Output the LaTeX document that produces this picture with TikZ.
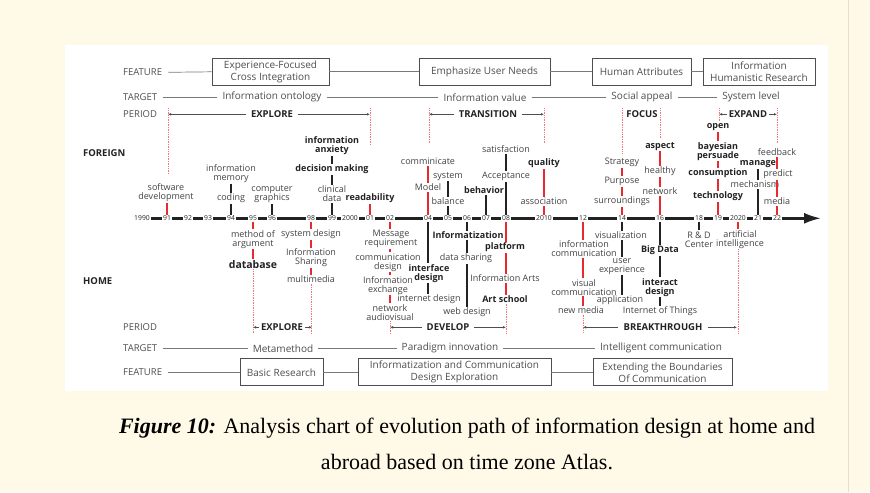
\documentclass[tikz,border=0pt]{standalone}
\usepackage{fontspec}
\setmainfont{Open Sans}
\newfontfamily\capfont{Liberation Serif}
\usetikzlibrary{arrows.meta}
\definecolor{cream}{RGB}{255,249,231}
\definecolor{myred}{RGB}{232,42,48}
\definecolor{dotred}{RGB}{240,120,120}
\definecolor{ink}{RGB}{34,34,34}
\definecolor{gline}{RGB}{120,120,120}
\definecolor{edge}{RGB}{230,222,200}
\begin{document}
\begin{tikzpicture}[x=1pt,y=-1pt,
 lab/.style={font=\fontsize{9}{9}\selectfont, align=center, inner xsep=1pt, inner ysep=0.8pt, text=ink!85},
 blab/.style={lab, font=\fontsize{9}{9}\selectfont\bfseries, text=ink},
 yr/.style={font=\fontsize{6.8}{7}\selectfont, fill=white, inner xsep=1.2pt, inner ysep=1pt, text=ink},
 rstem/.style={draw=myred, line width=2.3pt},
 kstem/.style={draw=ink, line width=2.3pt},
 rdot/.style={draw=dotred, densely dotted, line width=0.7pt},
 hdr/.style={font=\fontsize{10}{10}\selectfont, text=ink!80, inner xsep=5pt},
 rowlab/.style={font=\fontsize{9.5}{9.5}\selectfont, text=ink!80, anchor=west, inner xsep=0pt},
 side/.style={font=\fontsize{9.5}{9.5}\selectfont\bfseries, text=ink, anchor=west, inner xsep=0pt},
 fbox/.style={draw=ink!80, line width=0.8pt, align=center, minimum height=27pt, inner sep=0pt, font=\fontsize{10}{12}\selectfont, text=ink!80},
 rline/.style={draw=gline, line width=0.7pt},
 per/.style={font=\fontsize{9.5}{9.5}\selectfont\bfseries, text=ink, inner xsep=5pt},
 parr/.style={draw=ink!80, line width=0.7pt, arrows={-Latex[length=3pt,width=2.6pt]}},
]
% background
\fill[cream] (0,0) rectangle (870,492);
\fill[white] (65,45) rectangle (828,391);
\coordinate (e1) at (848,0); \coordinate (e2) at (848,492);
\draw[edge, line width=0.6pt] (e1) -- (e2);

% ---------- top rows ----------
\node[rowlab] (fL) at (123,72) {FEATURE};
\node[rowlab] (tL) at (123,97) {TARGET};
\node[rowlab] (pL) at (123,114) {PERIOD};

\node[fbox, minimum width=117pt] (bE) at (270.5,71.5) {Experience-Focused\\Cross Integration};
\node[fbox, minimum width=131pt] (bU) at (484.5,71.5) {Emphasize User Needs};
\node[fbox, minimum width=99pt] (bH) at (641.5,71.5) {Human Attributes};
\node[fbox, minimum width=112pt] (bI) at (759,71.5) {Information\\Humanistic Research};
\draw[rline] ([xshift=6pt]fL.east) -- (bE.west);
\draw[rline] (bE.east) -- (bU.west);
\draw[rline] (bU.east) -- (bH.west);
\draw[rline] (bH.east) -- (bI.west);

\node[hdr] (tA) at (272,97) {Information ontology};
\node[hdr] (tB) at (485,97) {Information value};
\node[hdr] (tC) at (642,97) {Social appeal};
\node[hdr] (tD) at (751,97) {System level};
\draw[rline] ([xshift=6pt]tL.east) -- (tA.west);
\draw[rline] (tA.east) -- (tB.west);
\draw[rline] (tB.east) -- (tC.west);
\draw[rline] (tC.east) -- (tD.west);

% period (top)
\node[per] (pEX) at (272,114) {EXPLORE};
\coordinate (pEXl) at (168,114); \coordinate (pEXr) at (370,114);
\draw[parr] (pEX.west) -- (pEXl); \draw[parr] (pEX.east) -- (pEXr);
\node[per] (pTR) at (488,114) {TRANSITION};
\coordinate (pTRl) at (429,114); \coordinate (pTRr) at (544,114);
\draw[parr] (pTR.west) -- (pTRl); \draw[parr] (pTR.east) -- (pTRr);
\node[per] (pFO) at (642,114) {FOCUS};
\node[per, inner xsep=2pt] (pEP) at (748,114) {EXPAND};
\coordinate (pEPl) at (719,114); \coordinate (pEPr) at (777,114);
\draw[parr] (pEP.west) -- (pEPl); \draw[parr] (pEP.east) -- (pEPr);

% dotted guides (top)
\foreach \n/\x/\ye in {a/168/173, b/370/145, c/429/143, d/544/143, e/622/153, f/660/138, g/719/120, h/777/143}{
  \coordinate (du\n1) at (\x,108); \coordinate (du\n2) at (\x,\ye);
  \draw[rdot] (du\n1) -- (du\n2);
}

\node[side] (FOR) at (83,153) {FOREIGN};
\node[side] (HOM) at (83,281) {HOME};

% ---------- timeline ----------
\coordinate (t0) at (149,218); \coordinate (tend) at (821,218);
\draw[ink, line width=2.4pt, -{Latex[length=17pt,width=11pt]}] (t0) -- (tend);
\foreach \n/\x/\t in {1990/142/1990, 91/167/91, 92/188/92, 93/208/93, 94/231/94, 95/253/95, 96/272/96, 98/311/98, 99/332/99, 2000/350/2000, 01/370/01, 02/390/02, 04/428/04, 05/448/05, 06/467/06, 07/486/07, 08/506/08, 2010/544/2010, 12/583/12, 14/622/14, 16/660/16, 18/699/18, 19/718/19, 2020/738/2020, 21/758/21, 22/777/22}{
  \node[yr] (y\n) at (\x,218) {\t};
}

% ---------- foreign ----------
\node[lab] (f91) at (166,192.5) {software\\development};
\draw[rstem] (y91.north) -- (y91 |- f91.south);

\node[lab] (f94a) at (231,198) {coding};
\node[lab] (f94b) at (231,173.5) {information\\memory};
\draw[kstem] (y94.north) -- (y94 |- f94a.south);
\draw[kstem] (y94 |- f94a.north) -- (y94 |- f94b.south);

\node[lab] (f96) at (272,194) {computer\\graphics};
\draw[kstem] (y96.north) -- (y96 |- f96.south);

\node[lab] (f99a) at (332,193.5) {clinical\\data};
\node[blab] (f99b) at (332,169) {decision making};
\node[blab] (f99c) at (332,145.5) {information\\anxiety};
\draw[kstem] (y99.north) -- (y99 |- f99a.south);
\draw[kstem] (y99 |- f99a.north) -- (y99 |- f99b.south);
\draw[kstem] (y99 |- f99b.north) -- (y99 |- f99c.south);

\node[blab] (f01) at (370,198) {readability};
\draw[rstem] (y01.north) -- (y01 |- f01.south);

\node[lab] (f04a) at (428,187) {Model};
\node[lab] (f04b) at (428,161) {comminicate};
\draw[rstem] (y04.north) -- (y04 |- f04a.south);
\draw[rstem] (y04 |- f04a.north) -- (y04 |- f04b.south);

\node[lab] (f05a) at (448,201) {balance};
\node[lab] (f05b) at (448,176) {system};
\draw[kstem] (y05.north) -- (y05 |- f05a.south);
\draw[kstem] (y05 |- f05a.north) -- (y05 |- f05b.south);

\node[blab] (f07) at (484,190) {behavior};
\draw[kstem] (y07.north) -- (y07 |- f07.south);

\node[lab] (f08a) at (506,176) {Acceptance};
\node[lab] (f08b) at (506,149) {satisfaction};
\draw[kstem] (y08.north) -- (y08 |- f08a.south);
\draw[kstem] (y08 |- f08a.north) -- (y08 |- f08b.south);

\node[lab] (f10a) at (544,201) {association};
\node[blab] (f10b) at (544,163) {quality};
\draw[rstem] (y2010.north) -- (y2010 |- f10a.south);
\draw[rstem] (y2010 |- f10a.north) -- (y2010 |- f10b.south);

\node[lab] (f14a) at (622,201) {surroundings};
\node[lab] (f14b) at (622,181) {Purpose};
\node[lab] (f14c) at (622,162) {Strategy};
\draw[rstem] (y14.north) -- (y14 |- f14a.south);
\draw[rstem] (y14 |- f14a.north) -- (y14 |- f14b.south);
\draw[rstem] (y14 |- f14b.north) -- (y14 |- f14c.south);

\node[lab] (f16a) at (660,191) {network};
\node[lab] (f16b) at (660,171) {healthy};
\node[blab] (f16c) at (660,146) {aspect};
\draw[rstem] (y16.north) -- (y16 |- f16a.south);
\draw[rstem] (y16 |- f16a.north) -- (y16 |- f16b.south);
\draw[rstem] (y16 |- f16b.north) -- (y16 |- f16c.south);

\node[blab] (f19a) at (718,196) {technology};
\node[blab] (f19b) at (718,173) {consumption};
\node[blab] (f19c) at (718,151) {bayesian\\persuade};
\node[blab] (f19d) at (718,127) {open};
\draw[rstem] (y19.north) -- (y19 |- f19a.south);
\draw[rstem] (y19 |- f19a.north) -- (y19 |- f19b.south);
\draw[rstem] (y19 |- f19b.north) -- (y19 |- f19c.south);
\draw[rstem] (y19 |- f19c.north) -- (y19 |- f19d.south);

\node[lab] (f21a) at (755,184) {mechanism};
\node[blab] (f21b) at (758,164) {manage};
\draw[kstem] (y21.north) -- (y21 |- f21a.south);
\draw[kstem] (y21 |- f21a.north) -- (y21 |- f21b.south);

\node[lab] (f22a) at (777,201) {media};
\node[lab] (f22b) at (778,174) {predict};
\node[lab] (f22c) at (777,152) {feedback};
\draw[rstem] (y22.north) -- (y22 |- f22a.south);
\draw[rstem] (y22 |- f22a.north) -- (y22 |- f22b.south);
\draw[rstem] (y22 |- f22b.north) -- (y22 |- f22c.south);

% ---------- home ----------
\node[lab] (h95a) at (253,239) {method of\\argument};
\node[blab, font=\fontsize{10.5}{10.5}\selectfont\bfseries] (h95b) at (253,264) {database};
\draw[rstem] (y95.south) -- (y95 |- h95a.north);
\draw[rstem] (y95 |- h95a.south) -- (y95 |- h95b.north);

\node[lab] (h98a) at (311,234) {system design};
\node[lab] (h98b) at (311,257.5) {Information\\Sharing};
\node[lab] (h98c) at (311,279) {multimedia};
\draw[rstem] (y98.south) -- (y98 |- h98a.north);
\draw[rstem] (y98 |- h98a.south) -- (y98 |- h98b.north);
\draw[rstem] (y98 |- h98b.south) -- (y98 |- h98c.north);

\node[lab] (h02a) at (391,238.5) {Message\\requirement};
\node[lab] (h02b) at (388,262) {communication\\design};
\node[lab] (h02c) at (388,285) {Information\\exchange};
\node[lab] (h02d) at (390,312) {network\\audiovisual};
\draw[rstem] (y02.south) -- (y02 |- h02a.north);
\draw[rstem] (y02 |- h02a.south) -- (y02 |- h02b.north);
\draw[rstem] (y02 |- h02b.south) -- (y02 |- h02c.north);
\draw[rstem] (y02 |- h02c.south) -- (y02 |- h02d.north);

\node[blab] (h04a) at (429,273) {interface\\design};
\node[lab] (h04b) at (429,299) {internet design};
\draw[kstem] (y04.south) -- (y04 |- h04a.north);
\draw[kstem] (y04 |- h04a.south) -- (y04 |- h04b.north);

\node[blab] (h06a) at (468,235) {Informatization};
\node[lab] (h06b) at (466,258) {data sharing};
\node[lab] (h06c) at (467,312) {web design};
\draw[kstem] (y06.south) -- (y06 |- h06a.north);
\draw[kstem] (y06 |- h06a.south) -- (y06 |- h06b.north);
\draw[kstem] (y06 |- h06b.south) -- (y06 |- h06c.north);

\node[blab] (h08a) at (505,247) {platform};
\node[lab] (h08b) at (505,278) {Information Arts};
\node[blab] (h08c) at (505,299) {Art school};
\draw[rstem] (y08.south) -- (y08 |- h08a.north);
\draw[rstem] (y08 |- h08a.south) -- (y08 |- h08b.north);
\draw[rstem] (y08 |- h08b.south) -- (y08 |- h08c.north);

\node[lab] (h12a) at (584,248.5) {information\\communication};
\node[lab] (h12b) at (584,287) {visual\\communication};
\node[lab] (h12c) at (581,310) {new media};
\draw[rstem] (y12.south) -- (y12 |- h12a.north);
\draw[rstem] (y12 |- h12a.south) -- (y12 |- h12b.north);
\draw[rstem] (y12 |- h12b.south) -- (y12 |- h12c.north);

\node[lab] (h14a) at (621,235) {visualization};
\node[lab] (h14b) at (622,266) {user\\experience};
\node[lab] (h14c) at (620,300) {application};
\draw[kstem] (y14.south) -- (y14 |- h14a.north);
\draw[kstem] (y14 |- h14a.south) -- (y14 |- h14b.north);
\draw[kstem] (y14 |- h14b.south) -- (y14 |- h14c.north);

\node[blab] (h16a) at (660,250) {Big Data};
\node[blab] (h16b) at (660,287) {interact\\design};
\node[lab] (h16c) at (660,311) {Internet of Things};
\draw[kstem] (y16.south) -- (y16 |- h16a.north);
\draw[kstem] (y16 |- h16a.south) -- (y16 |- h16b.north);
\draw[kstem] (y16 |- h16b.south) -- (y16 |- h16c.north);

\node[lab] (h18) at (699,239) {R \& D\\Center};
\draw[kstem] (y18.south) -- (y18 |- h18.north);

\node[lab] (h20) at (740,239) {artificial\\intelligence};
\draw[rstem] (y2020.south) -- (y2020 |- h20.north);

% dotted guides (bottom)
\coordinate (dl1) at (253,333); \draw[rdot] (y95 |- h95b.south) -- (dl1);
\coordinate (dl2) at (311,333); \draw[rdot] (y98 |- h98c.south) -- (dl2);
\coordinate (dl3) at (390,333); \draw[rdot] (y02 |- h02d.south) -- (dl3);
\coordinate (dl4) at (506,333); \draw[rdot] (y08 |- h08c.south) -- (dl4);
\coordinate (dl5) at (583,333); \draw[rdot] (y12 |- h12c.south) -- (dl5);
\coordinate (dl6) at (738,333); \draw[rdot] (y2020 |- h20.south) -- (dl6);

% ---------- bottom rows ----------
\node[rowlab] (pL2) at (123,327) {PERIOD};
\node[rowlab] (tL2) at (123,348) {TARGET};
\node[rowlab] (fL2) at (123,372) {FEATURE};

\node[per, inner xsep=2pt] (qEX) at (282,327) {EXPLORE};
\coordinate (qEXl) at (253,327); \coordinate (qEXr) at (312,327);
\draw[parr] (qEX.west) -- (qEXl); \draw[parr] (qEX.east) -- (qEXr);
\node[per] (qDV) at (448,327) {DEVELOP};
\coordinate (qDVl) at (390,327); \coordinate (qDVr) at (506,327);
\draw[parr] (qDV.west) -- (qDVl); \draw[parr] (qDV.east) -- (qDVr);
\node[per] (qBT) at (663,327) {BREAKTHROUGH};
\coordinate (qBTl) at (583,327); \coordinate (qBTr) at (737,327);
\draw[parr] (qBT.west) -- (qBTl); \draw[parr] (qBT.east) -- (qBTr);

\node[hdr] (sA) at (283,348) {Metamethod};
\node[hdr] (sB) at (450,348) {Paradigm innovation};
\node[hdr] (sC) at (661,348) {Intelligent communication};
\draw[rline] ([xshift=6pt]tL2.east) -- (sA.west);
\draw[rline] (sA.east) -- (sB.west);
\draw[rline] (sB.east) -- (sC.west);

\node[fbox, minimum width=83pt] (cB) at (281.5,372) {Basic Research};
\node[fbox, minimum width=193pt] (cD) at (454.5,372) {Informatization and Communication\\Design Exploration};
\node[fbox, minimum width=139pt] (cX) at (662.5,372) {Extending the Boundaries\\Of Communication};
\draw[rline] ([xshift=6pt]fL2.east) -- (cB.west);
\draw[rline] (cB.east) -- (cD.west);
\draw[rline] (cD.east) -- (cX.west);

% ---------- caption ----------
\node[font=\capfont\fontsize{22}{22}\selectfont, text=black] (cap1) at (467,428)
  {\textbf{\textit{Figure 10:}} Analysis chart of evolution path of information design at home and};
\node[font=\capfont\fontsize{22}{22}\selectfont, text=black] (cap2) at (467,462)
  {abroad based on time zone Atlas.};
\end{tikzpicture}
\end{document}
